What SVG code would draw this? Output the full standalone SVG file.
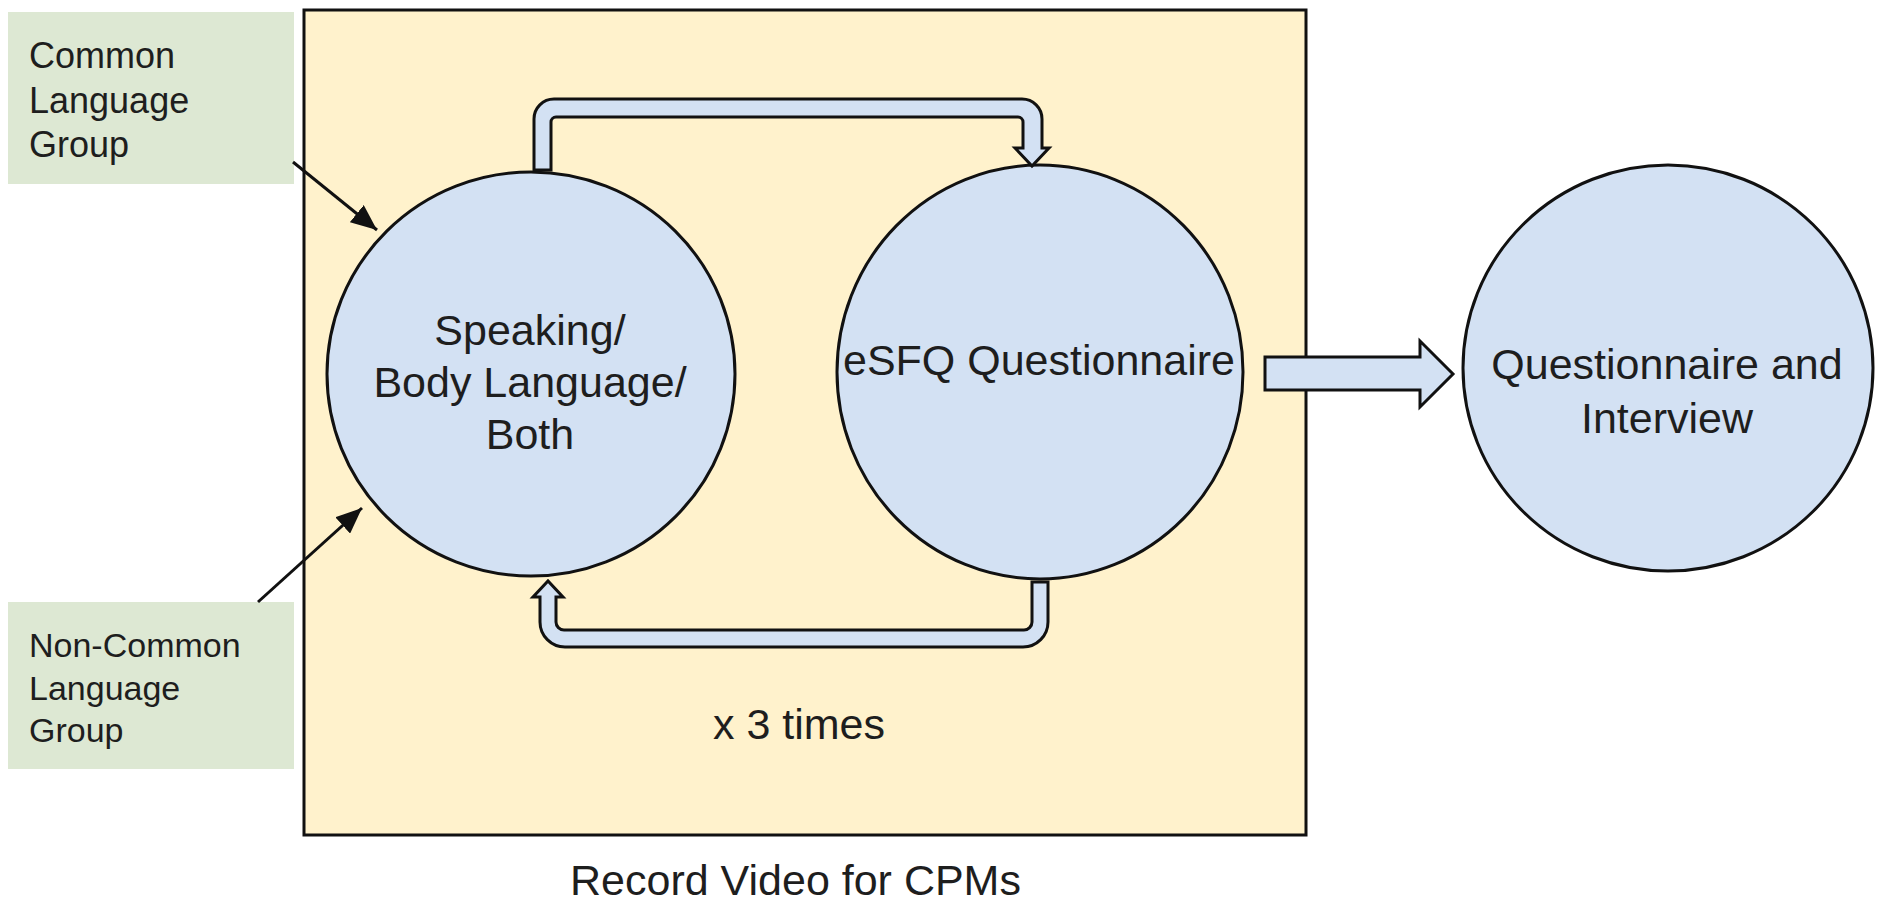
<svg xmlns="http://www.w3.org/2000/svg" width="1882" height="909" viewBox="0 0 1882 909">
  <style>
    .t { font-family: "Liberation Sans", Arial, sans-serif; fill: #1e1e1e; }
    .c { text-anchor: middle; font-size: 43px; }
    .node { fill: #d3e1f3; stroke: #111; stroke-width: 3; }
    .green { fill: #dde8d3; }
    .block { fill: #d3e1f3; stroke: #111; stroke-width: 3; stroke-linejoin: miter; }
    .line { stroke: #111; stroke-width: 3; fill: none; }
  </style>
  <defs>
    <marker id="ah" markerUnits="userSpaceOnUse" markerWidth="28" markerHeight="22" refX="26" refY="11" orient="auto">
      <path d="M0 0 L26 11 L0 22 Z" fill="#111"/>
    </marker>
  </defs>
  <rect width="1882" height="909" fill="#ffffff"/>

  <g id="record-video-container">
    <rect x="304" y="10" width="1002" height="825" fill="#fff2cc" stroke="#111" stroke-width="3"/>
    <text class="t" x="795.5" y="895" font-size="43" text-anchor="middle">Record Video for CPMs</text>
    <text class="t" x="799" y="739" font-size="43" text-anchor="middle">x 3 times</text>
  </g>

  <g id="common-language-group">
    <rect class="green" x="8" y="12" width="286" height="172"/>
    <text class="t" font-size="36" x="29" y="68">Common</text>
    <text class="t" font-size="36" x="29" y="113">Language</text>
    <text class="t" font-size="36" x="29" y="157">Group</text>
  </g>

  <g id="non-common-language-group">
    <rect class="green" x="8" y="602" width="286" height="167"/>
    <text class="t" font-size="34" x="29" y="657">Non-Common</text>
    <text class="t" font-size="34" x="29" y="700">Language</text>
    <text class="t" font-size="34" x="29" y="742">Group</text>
  </g>

  <g id="speaking-node">
    <ellipse class="node" cx="531" cy="374" rx="204" ry="202"/>
    <text class="t c" x="530" y="345">Speaking/</text>
    <text class="t c" x="530" y="397">Body Language/</text>
    <text class="t c" x="530" y="449">Both</text>
  </g>

  <g id="esfq-node">
    <ellipse class="node" cx="1040" cy="372" rx="203" ry="207"/>
    <text class="t c" x="1039" y="375">eSFQ Questionnaire</text>
  </g>

  <g id="questionnaire-interview-node">
    <ellipse class="node" cx="1668" cy="368" rx="205" ry="203"/>
    <text class="t c" x="1667" y="379">Questionnaire and</text>
    <text class="t c" x="1667" y="433">Interview</text>
  </g>

  <g id="connectors">
    <line class="line" x1="293" y1="162" x2="377" y2="230" marker-end="url(#ah)"/>
    <line class="line" x1="258" y1="602" x2="362" y2="508" marker-end="url(#ah)"/>
    <path class="block" d="M534 170 L534 119 A20 20 0 0 1 554 99 L1022 99 A20 20 0 0 1 1042 119 L1042 148 L1049 148 L1032 166 L1015 148 L1023 148 L1023 122 A5 5 0 0 0 1018 117 L556 117 A5 5 0 0 0 551 122 L551 170 Z"/>
    <path class="block" d="M1032 582 L1048 582 L1048 622 A25 25 0 0 1 1023 647 L565 647 A25 25 0 0 1 540 622 L540 597 L533 597 L548 581 L563 597 L556 597 L556 622 A8 8 0 0 0 564 630 L1024 630 A8 8 0 0 0 1032 622 Z"/>
    <path class="block" d="M1265 357 L1420 357 L1420 341 L1453 374 L1420 407 L1420 390 L1265 390 Z"/>
  </g>
</svg>
